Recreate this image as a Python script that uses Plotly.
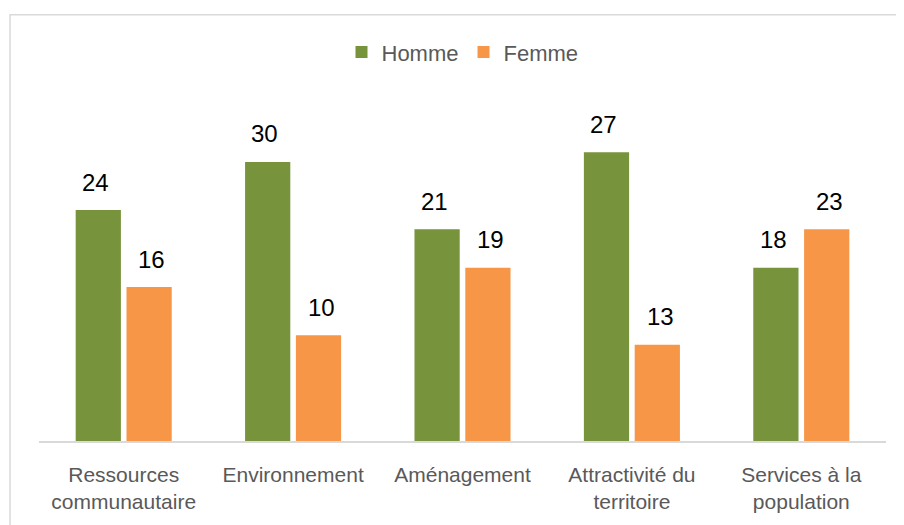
import plotly.graph_objects as go

categories = ["Ressources<br>communautaire", "Environnement", "Aménagement",
              "Attractivité du<br>territoire", "Services à la<br>population"]
homme_height = [24, 29, 22, 30, 18]
femme_height = [16, 11, 18, 10, 22]
homme_labels = [24, 30, 21, 27, 18]
femme_labels = [16, 10, 19, 13, 23]

GREEN = "#77933C"
ORANGE = "#F79646"
FONT = "Liberation Sans, Arial, sans-serif"

fig = go.Figure()
fig.add_trace(go.Bar(name="Homme", x=categories, y=homme_height,
                     marker=dict(color=GREEN, line=dict(width=0))))
fig.add_trace(go.Bar(name="Femme", x=categories, y=femme_height,
                     marker=dict(color=ORANGE, line=dict(width=0))))

annotations = []
for i, c in enumerate(categories):
    for vals, labs, shift in ((homme_height, homme_labels, -28.2),
                              (femme_height, femme_labels, 28.2)):
        annotations.append(dict(x=c, y=vals[i], xref="x", yref="y",
                                text=str(labs[i]), showarrow=False,
                                xshift=shift, yshift=28, yanchor="middle",
                                font=dict(family=FONT, size=24, color="#000000")))

fig.update_layout(
    width=896, height=517,
    margin=dict(l=31, r=18, t=97, b=82),
    paper_bgcolor="white", plot_bgcolor="white",
    barmode="group", bargap=0.4, bargroupgap=0.11,
    font=dict(family=FONT, size=21, color="#595959"),
    showlegend=True,
    legend=dict(orientation="h", x=0.50, xanchor="center", y=1.157, yanchor="middle",
                font=dict(family=FONT, size=22, color="#595959"),
                itemwidth=30, bgcolor="rgba(0,0,0,0)"),
    xaxis=dict(showline=True, linecolor="#D9D9D9", linewidth=1.5,
               showgrid=False, ticks="", ticklabelstandoff=14,
               tickfont=dict(family=FONT, size=21, color="#595959")),
    yaxis=dict(range=[0, 34.92], showgrid=False, showticklabels=False,
               zeroline=False, showline=False),
    annotations=annotations,
    shapes=[dict(type="rect", xref="paper", yref="paper",
                 x0=-0.0342, x1=1.2, y0=-0.5, y1=1.2688,
                 line=dict(color="#D9D9D9", width=1.5), fillcolor="rgba(0,0,0,0)",
                 layer="below")],
)

fig.write_html("out.html")
